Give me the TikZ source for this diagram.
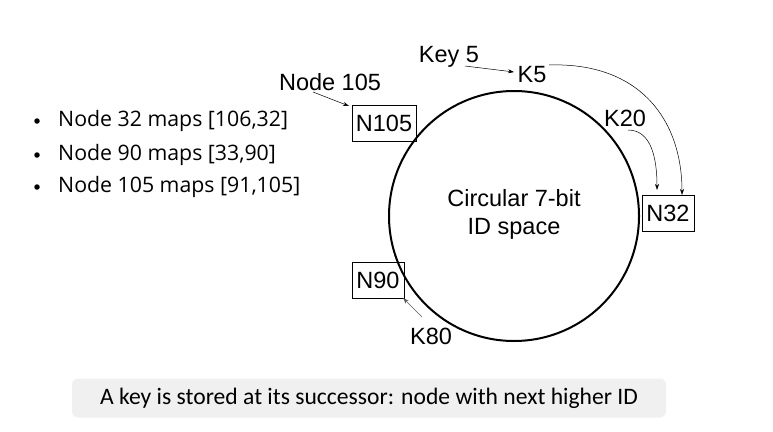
\documentclass[tikz,border=0pt]{standalone}
\usepackage{fontspec}
\setmainfont{Liberation Sans}
\newfontfamily\bulletfont{Open Sans}
\newfontfamily\notefont{Carlito}
\usetikzlibrary{arrows.meta}
\begin{document}
\begin{tikzpicture}[x=1pt,y=-1pt,
  nodebox/.style={draw,thick,inner sep=2pt,font=\fontsize{23.5}{26}\selectfont},
  lbl/.style={inner sep=0pt,font=\fontsize{23.5}{26}\selectfont},
  bul/.style={anchor=west,inner sep=0pt,font=\bulletfont\fontsize{21.3}{24}\selectfont},
  dot/.style={circle,fill,inner sep=0pt,minimum size=5.5pt},
  thinarrow/.style={-{Stealth[length=6pt,width=4pt]},line width=0.5pt}]
\useasboundingbox (0,0) rectangle (773,431);
% ring
\node[circle,draw,line width=2pt,minimum size=250pt,inner sep=0pt] (ring) at (514,216) {};
\node[lbl,align=center,font=\fontsize{23.5}{28}\selectfont] (ct) at (514,214) {Circular 7-bit\\ID space};
% nodes
\node[nodebox,minimum width=64pt,minimum height=36pt] (n105) at (384,123) {N105};
\node[nodebox,minimum width=52pt,minimum height=36pt] (n32) at (668,213) {N32};
\node[nodebox,minimum width=52pt,minimum height=36pt] (n90) at (378,280) {N90};
% labels
\node[lbl] (key5) at (449,57) {Key 5};
\node[lbl] (nd105) at (330,82) {Node 105};
\node[lbl] (k5) at (532,75) {K5};
\node[lbl] (k20) at (625,118) {K20};
\node[lbl] (k80) at (431,336) {K80};
\coordinate (key5s) at (465,66);
\coordinate (k5e) at (514,72);
\coordinate (nd105s) at (313,92);
\coordinate (nd105e) at (349,106);
\coordinate (k5s) at (549,65);
\coordinate (n32a) at (682,195);
\coordinate (k20s) at (628,130);
\coordinate (n32b) at (657,190);
\coordinate (k80s) at (422,317);
\coordinate (n90e) at (403,298);
\draw[thinarrow] (key5s) -- (k5e);
\draw[thinarrow] (nd105s) -- (nd105e);
\draw[thinarrow] (k5s) .. controls (640,62) and (682,120) .. (n32a);
\draw[thinarrow] (k20s) .. controls (652,130) and (657,160) .. (n32b);
\draw[thinarrow,draw=gray!70!black] (k80s) -- (n90e);
% bullets
\node[dot] (b1) at (37,121) {};
\node[bul] (t1) at (58,121) {Node 32 maps [106,32]};
\node[dot] (b2) at (37,155) {};
\node[bul] (t2) at (58,155) {Node 90 maps [33,90]};
\node[dot] (b3) at (37,187) {};
\node[bul] (t3) at (58,187) {Node 105 maps [91,105]};
% note
\node[rounded corners=6pt,fill=black!6,minimum width=594pt,minimum height=39pt,font=\notefont\fontsize{23.6}{26}\selectfont] (note) at (369,398) {A key is stored at its successor: node with next higher ID};
\end{tikzpicture}
\end{document}
